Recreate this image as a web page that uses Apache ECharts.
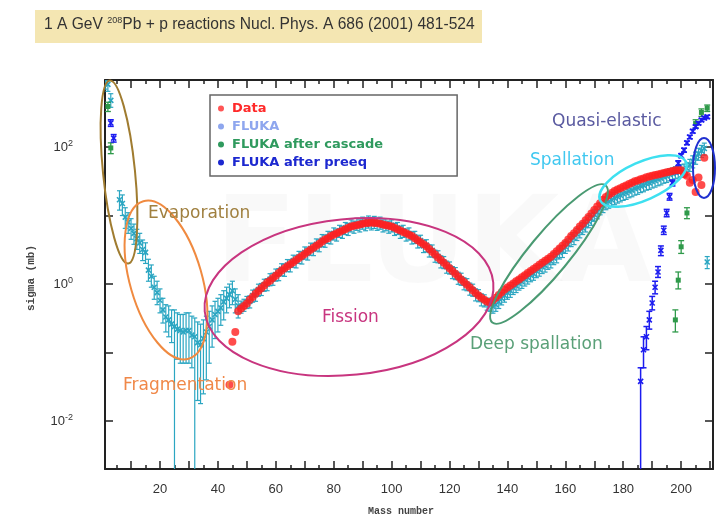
<!DOCTYPE html>
<html><head><meta charset="utf-8">
<script src="https://cdn.jsdelivr.net/npm/echarts@6/dist/echarts.min.js"></script>
<style>html,body{margin:0;padding:0;background:#fff}#c{width:717px;height:521px}</style>
</head><body><div id="c"></div>
<script>
// ---------- axis ticks / labels ----------
const massLabelTicks = [20,40,60,80,100,120,140,160,180,200];
const massMajorTicks = [10,20,30,40,50,60,70,80,90,100,110,120,130,140,150,160,170,180,190,200,210];
const massMinorTicks = [5,15,25,35,45,55,65,75,85,95,105,115,125,135,145,155,165,175,185,195,205];
const sigmaLabelTicks = [0.01, 1, 100];
const sigmaTicks = [0.01, 0.1, 1, 10, 100];

// ---------- Data (red) : mass numbers from dataStart ----------
const dataStart = 44;
const dataSigma = [0.034,0.144,0.20,0.40,0.44,0.48,0.52,0.59,0.65,0.72,0.79,0.87,0.95,1.05,1.12,1.23,1.32,1.45,1.58,1.70,
1.82,1.95,2.09,2.24,2.40,2.57,2.75,2.95,3.16,3.39,3.63,3.89,4.17,4.47,4.68,5.01,5.25,5.50,5.75,6.03,
6.31,6.61,6.92,7.08,7.24,7.41,7.59,7.76,7.76,7.94,7.76,7.76,7.59,7.41,7.24,7.08,6.92,6.61,6.31,6.03,
5.75,5.50,5.25,5.01,4.68,4.37,4.07,3.80,3.55,3.24,2.95,2.69,2.45,2.24,2.04,1.86,1.70,1.55,1.41,1.29,
1.17,1.07,0.98,0.89,0.81,0.74,0.68,0.63,0.59,0.55,0.54,0.58,0.63,0.69,0.76,0.83,0.89,0.95,1.02,1.10,
1.17,1.26,1.35,1.45,1.55,1.66,1.78,1.91,2.04,2.19,2.34,2.51,2.75,3.02,3.31,3.63,3.98,4.47,5.01,5.50,
6.17,6.92,7.59,8.51,9.55,10.7,12.0,13.5,15.1,17.0,18.6,20.0,21.4,22.9,24.0,25.1,26.3,27.5,28.8,30.2,
31.6,32.4,33.9,34.7,36.3,37.2,38.0,38.9,39.8,40.7,41.7,42.7,43.7,44.7,45.7,45.7,45.7,40,38,30,
33,22,36,28,70];

// ---------- FLUKA (light region, explicit errors) ----------
const flukaLowA   = [1,2,3,6,7,8,9,10,11,12,13,14,15,16,17,18,19,20,21,22,23,24,25,26,27,28,29,30,31,32,33,34,35,36,37,38,39,40,41,42,43,44,45,46,47];
const flukaLowV   = [900,820,480,17,15,9.5,8,6.5,5.5,4.6,4.0,3.2,2.9,1.6,1.3,0.9,0.75,0.58,0.42,0.33,0.30,0.26,0.24,0.22,0.21,0.20,0.21,0.21,0.18,0.17,0.14,0.13,0.16,0.20,0.24,0.30,0.36,0.40,0.45,0.55,0.62,0.70,0.80,0.60,0.48];
const flukaLowLo  = [700,650,380,12,10,6.5,5.5,4.5,3.8,3.2,2.8,2.2,2.0,1.1,0.9,0.6,0.5,0.38,0.27,0.2,0.17,0.14,0,0.08,0.07,0.07,0.07,0.07,0.06,0,0.02,0.018,0.025,0.04,0.07,0.12,0.16,0.2,0.25,0.3,0.38,0.45,0.5,0.38,0.32];
const flukaLowHi  = [1100,1000,600,23,20,13,11,9,7.5,6.3,5.5,4.4,4.0,2.3,1.9,1.3,1.1,0.85,0.62,0.5,0.48,0.42,0.42,0.38,0.36,0.36,0.38,0.38,0.34,0.32,0.28,0.26,0.3,0.34,0.4,0.48,0.56,0.62,0.7,0.8,0.9,1.0,1.1,0.85,0.7];

// ---------- FLUKA (main band from bandStart) ----------
const bandStart = 48;
const flukaBand = [0.47,0.50,0.55,0.56,0.68,0.70,0.83,0.85,0.98,1.0,1.18,1.2,1.38,1.40,1.65,1.62,1.9,1.88,2.2,2.15,
2.5,2.45,2.9,2.8,3.3,3.25,3.8,3.7,4.4,4.3,4.9,4.8,5.5,5.3,6.0,5.8,6.6,6.4,7.2,6.9,
7.6,7.2,7.9,7.5,8.2,7.7,8.1,7.6,7.9,7.2,7.5,6.9,7.2,6.4,6.6,5.8,6.0,5.3,5.5,4.8,
4.9,4.2,4.3,3.6,3.7,3.1,3.1,2.6,2.55,2.15,2.1,1.8,1.75,1.5,1.45,1.24,1.2,1.03,1.0,0.86,
0.83,0.71,0.69,0.60,0.58,0.52,0.50,0.47,0.50,0.55,0.62,0.68,0.75,0.80,0.88,0.94,1.02,1.08,1.17,1.25,
1.35,1.42,1.55,1.63,1.78,1.87,2.05,2.15,2.40,2.55,2.9,3.05,3.5,3.8,4.4,4.7,5.4,5.9,6.6,7.2,
8.3,9.0,10.3,11.2,12.8,13.8,15.2,16.0,17.0,18.0,19.0,19.8,20.8,21.5,22.7,23.5,24.8,25.5,27.0,27.8,
29.3,30.0,31.5,32.5,34.0,35.0,37.0,38.0,40.0,41.0,43.0,44.0,46.0,47,49,55,62,70,80,88,
95,2.1];
const flukaBandRelErr = 0.2;

// ---------- FLUKA after cascade (green) ----------
const cascadeA  = [2,3,198,199,200,202,205,207,209];
const cascadeV  = [390,97,0.30,1.14,3.5,10.9,220,320,370];
const cascadeLo = [330,80,0.2,0.85,2.8,9,190,280,330];
const cascadeHi = [450,115,0.42,1.5,4.3,13,250,360,410];

// ---------- FLUKA after preeq (blue) ----------
const preeqA  = [3,4,186,187,188,189,190,191,192,193,194,195,196,197,198,199,200,201,202,203,204,205,206,207,208,209];
const preeqV  = [224,135,0.038,0.11,0.17,0.30,0.53,0.9,1.5,3.1,6.1,10.9,18.8,30,45,58,75,90,115,140,170,198,222,248,265,276];
const preeqLo = [200,118,0,0.06,0.11,0.22,0.42,0.72,1.25,2.6,5.3,9.6,16.8,27,41,53,70,84,108,132,160,188,212,236,252,262];
const preeqHi = [250,152,0.06,0.17,0.24,0.40,0.66,1.1,1.8,3.6,7.0,12.3,21,33,49,63,80,96,122,148,180,208,232,260,278,290];

// ---------- build series data ----------
const dataPts = dataSigma.map((v,i)=>[dataStart+i, v]);
const flukaPts = flukaLowA.map((a,i)=>[a, flukaLowV[i], flukaLowLo[i], flukaLowHi[i]])
  .concat(flukaBand.map((v,i)=>[bandStart+i, v, v*(1-flukaBandRelErr), v*(1+flukaBandRelErr)]));
const cascadePts = cascadeA.map((a,i)=>[a, cascadeV[i], cascadeLo[i], cascadeHi[i]]);
const preeqPts = preeqA.map((a,i)=>[a, preeqV[i], preeqLo[i], preeqHi[i]]);

function errRender(color, marker, cw, lw) {
  return function (params, api) {
    const cs = params.coordSys;
    const yt = cs.y, yb = cs.y + cs.height;
    const x = api.value(0), v = api.value(1), lo = api.value(2), hi = api.value(3);
    const p = api.coord([x, v]);
    const pl = lo > 0 ? api.coord([x, lo])[1] : yb + 20;
    const ph = api.coord([x, hi])[1];
    const cl = y => Math.max(yt, Math.min(yb, y));
    const st = {stroke: color, lineWidth: lw};
    const ch = [{type:'line', shape:{x1:p[0], y1:cl(pl), x2:p[0], y2:cl(ph)}, style:st}];
    if (pl <= yb) ch.push({type:'line', shape:{x1:p[0]-cw, y1:pl, x2:p[0]+cw, y2:pl}, style:st});
    if (ph >= yt) ch.push({type:'line', shape:{x1:p[0]-cw, y1:ph, x2:p[0]+cw, y2:ph}, style:st});
    if (p[1] >= yt && p[1] <= yb) {
      if (marker === 'square') {
        ch.push({type:'rect', shape:{x:p[0]-2.5, y:p[1]-2.5, width:5, height:5}, style:{fill:color}});
      } else {
        const s = 2.5;
        ch.push({type:'line', shape:{x1:p[0]-s, y1:p[1]-s, x2:p[0]+s, y2:p[1]+s}, style:{stroke:color, lineWidth:1.6}});
        ch.push({type:'line', shape:{x1:p[0]-s, y1:p[1]+s, x2:p[0]+s, y2:p[1]-s}, style:{stroke:color, lineWidth:1.6}});
      }
    }
    return {type:'group', children: ch};
  };
}

const sup = {b:{fontSize:13, color:'#333', fontFamily:'Liberation Sans'}, s:{fontSize:9, color:'#333', fontFamily:'Liberation Sans', padding:[0,0,8,0]}};

const chart = echarts.init(document.getElementById('c'));
const GL = 105, GT = 80, GR = 4, GB = 52;
const xBase = {type:'value', min:1, max:211, gridIndex:0, splitLine:{show:false}};
const yBase = {type:'log', logBase:10, min:0.002, max:951, splitLine:{show:false}};
const axisLineStyle = {show:true, onZero:false, lineStyle:{color:'#222', width:2}};

chart.setOption({
  animation:false,
  backgroundColor:'#fff',
  grid:{left:GL, top:GT, right:GR, bottom:GB, containLabel:false},
  xAxis:[
    Object.assign({}, xBase, {position:'bottom', axisLine:axisLineStyle,
      axisTick:{inside:true, length:8, customValues:massMajorTicks, lineStyle:{color:'#222', width:1.5}},
      axisLabel:{customValues:massLabelTicks, fontSize:13, color:'#333', margin:14, fontFamily:'Liberation Sans'}}),
    Object.assign({}, xBase, {position:'bottom', axisLine:{show:false},
      axisTick:{inside:true, length:4, customValues:massMinorTicks, lineStyle:{color:'#222', width:1.5}},
      axisLabel:{show:false}}),
    Object.assign({}, xBase, {position:'top', axisLine:axisLineStyle,
      axisTick:{inside:true, length:8, customValues:massMajorTicks, lineStyle:{color:'#222', width:1.5}},
      axisLabel:{show:false}}),
    Object.assign({}, xBase, {position:'top', axisLine:{show:false},
      axisTick:{inside:true, length:4, customValues:massMinorTicks, lineStyle:{color:'#222', width:1.5}},
      axisLabel:{show:false}})
  ],
  yAxis:[
    Object.assign({}, yBase, {position:'left', axisLine:axisLineStyle,
      axisTick:{inside:true, length:8, customValues:sigmaTicks, lineStyle:{color:'#222', width:1.5}},
      axisLabel:{customValues:sigmaLabelTicks, margin:32, rich:sup,
        formatter: v => '{b|10}{s|' + Math.round(Math.log10(v)) + '}'}}),
    Object.assign({}, yBase, {position:'right', axisLine:axisLineStyle,
      axisTick:{inside:true, length:8, customValues:sigmaTicks, lineStyle:{color:'#222', width:1.5}},
      axisLabel:{show:false}})
  ],
  legend:{
    orient:'vertical', left:210, top:95, padding:[7,74,7,8], itemGap:5,
    itemWidth:12, itemHeight:6, icon:'circle', selectedMode:false,
    borderColor:'#666', borderWidth:1.5, backgroundColor:'#fff',
    textStyle:{fontSize:13, fontWeight:'bold', fontFamily:'DejaVu Sans'},
    data:[
      {name:'Data', itemStyle:{color:'#ff2a2a'}, textStyle:{color:'#ff2a2a'}},
      {name:'FLUKA', itemStyle:{color:'#8ea6ee'}, textStyle:{color:'#8ea6ee'}},
      {name:'FLUKA after cascade', itemStyle:{color:'#2f9a5e'}, textStyle:{color:'#2f9a5e'}},
      {name:'FLUKA after preeq', itemStyle:{color:'#1c28d0'}, textStyle:{color:'#1c28d0'}}
    ]
  },
  series:[
    {name:'FLUKA', type:'custom', xAxisIndex:0, yAxisIndex:0, clip:true, z:2,
     itemStyle:{color:'#2ba6c2'}, renderItem: errRender('#2ba6c2','x',2.5,1.2), data: flukaPts, encode:{x:0,y:1}},
    {name:'FLUKA after cascade', type:'custom', xAxisIndex:0, yAxisIndex:0, clip:true, z:3,
     itemStyle:{color:'#2f9a4a'}, renderItem: errRender('#2f9a4a','square',3,1.3), data: cascadePts, encode:{x:0,y:1}},
    {name:'FLUKA after preeq', type:'custom', xAxisIndex:0, yAxisIndex:0, clip:true, z:4,
     itemStyle:{color:'#1c1cf0'}, renderItem: errRender('#1c1cf0','x',3,1.5), data: preeqPts, encode:{x:0,y:1}},
    {name:'Data', type:'scatter', xAxisIndex:0, yAxisIndex:0, z:5, symbol:'circle', symbolSize:8,
     itemStyle:{color:'#ff1f1f'}, data: dataPts}
  ],
  graphic:[
    {type:'text', left:215, top:190, z:-10, silent:true,
     style:{text:'FLUKA', fontSize:120, fontWeight:'bold', fontFamily:'DejaVu Sans', fill:'rgba(0,0,0,0.022)'}},
    {type:'rect', left:35, top:10, z:10, shape:{width:447, height:33}, style:{fill:'#f4e6b2'}},
    {type:'text', left:44, top:16, z:11,
     style:{rich:{t:{fontSize:15.6, fill:'#333', fontFamily:'Liberation Sans'}, p:{fontSize:9, fill:'#333', fontFamily:'Liberation Sans', padding:[0,0,8,0]}},
            text:'{t|1 A GeV }{p|208}{t|Pb + p reactions Nucl. Phys. A 686 (2001) 481-524}'}},
    {type:'text', left:368, top:506, z:10,
     style:{text:'Mass number', fontSize:10, fontWeight:'bold', fontFamily:'Liberation Mono', fill:'#444'}},
    {type:'text', x:31, y:278, rotation:Math.PI/2, z:10,
     style:{text:'sigma (mb)', fontSize:11, fontWeight:'bold', fontFamily:'Liberation Mono', fill:'#444', align:'center', verticalAlign:'middle'}},
    // annotations
    {type:'ellipse', z:50, x:119, y:172, rotation:0.10, shape:{cx:0, cy:0, rx:16, ry:92}, style:{fill:'none', stroke:'#a07c30', lineWidth:2}},
    {type:'ellipse', z:50, x:166, y:280, rotation:0.28, shape:{cx:0, cy:0, rx:36, ry:82}, style:{fill:'none', stroke:'#f08a40', lineWidth:2}},
    {type:'ellipse', z:50, x:349, y:297, rotation:0.10, shape:{cx:0, cy:0, rx:145, ry:78}, style:{fill:'none', stroke:'#c8357f', lineWidth:2}},
    {type:'ellipse', z:50, x:549, y:254, rotation:0.88, shape:{cx:0, cy:0, rx:89, ry:20}, style:{fill:'none', stroke:'#4a9a72', lineWidth:2}},
    {type:'ellipse', z:50, x:643, y:181, rotation:0.42, shape:{cx:0, cy:0, rx:47, ry:19}, style:{fill:'none', stroke:'#3ee0f0', lineWidth:2.5}},
    {type:'ellipse', z:50, x:704, y:168, rotation:0, shape:{cx:0, cy:0, rx:11, ry:30}, style:{fill:'none', stroke:'#2030d0', lineWidth:2}},
    {type:'text', z:51, left:148, top:205, style:{text:'Evaporation', fontSize:17, fontFamily:'DejaVu Sans', fill:'#a08040'}},
    {type:'text', z:51, left:123, top:377, style:{text:'Fragmentation', fontSize:17, fontFamily:'DejaVu Sans', fill:'#f08848'}},
    {type:'text', z:51, left:322, top:309, style:{text:'Fission', fontSize:17, fontFamily:'DejaVu Sans', fill:'#c8357f'}},
    {type:'text', z:51, left:470, top:336, style:{text:'Deep spallation', fontSize:17, fontFamily:'DejaVu Sans', fill:'#5aa078'}},
    {type:'text', z:51, left:530, top:152, style:{text:'Spallation', fontSize:17, fontFamily:'DejaVu Sans', fill:'#40c8f0'}},
    {type:'text', z:51, left:552, top:113, style:{text:'Quasi-elastic', fontSize:17, fontFamily:'DejaVu Sans', fill:'#5a5aa0'}}
  ]
});
</script>
</body></html>
